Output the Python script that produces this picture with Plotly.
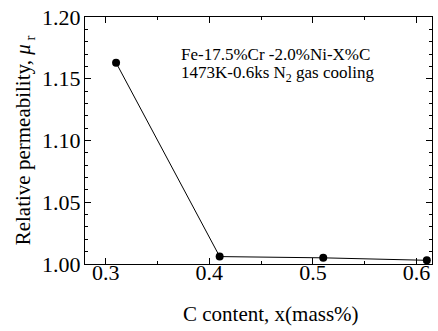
import plotly.graph_objects as go

c_content = [0.31, 0.41, 0.51, 0.61]
permeability = [1.163, 1.006, 1.005, 1.003]

x_ticks = [0.3, 0.4, 0.5, 0.6]
y_ticks = [1.00, 1.05, 1.10, 1.15, 1.20]

FONT = "Liberation Serif, Times New Roman, serif"

fig = go.Figure()
fig.add_trace(go.Scatter(
    x=c_content, y=permeability, mode="lines+markers",
    line=dict(color="black", width=1),
    marker=dict(color="black", size=8),
    showlegend=False,
))

axis_common = dict(
    showline=True, linecolor="black", linewidth=1, mirror="ticks",
    ticks="inside", ticklen=6, tickcolor="black", tickwidth=1,
    showgrid=False, zeroline=False,
    tickfont=dict(family=FONT, size=22, color="black"),
)

fig.update_xaxes(
    range=[0.28, 0.615], tickvals=x_ticks, ticktext=[f"{v:.1f}" for v in x_ticks],
    minor=dict(ticks="inside", ticklen=3, dtick=0.05, tick0=0.3, tickcolor="black"),
    ticklabelstandoff=-11,
    **axis_common,
)
fig.update_yaxes(
    range=[1.0, 1.2], tickvals=y_ticks, ticktext=[f"{v:.2f}" for v in y_ticks],
    minor=dict(ticks="inside", ticklen=3, dtick=0.01, tick0=1.0, tickcolor="black"),
    title=dict(text="Relative permeability, <i>μ</i><sub> r</sub>", font=dict(family=FONT, size=21, color="black"), standoff=5),
    ticklabelstandoff=-1,
    **axis_common,
)

# x-axis title (offset to the right as in the reference)
fig.add_annotation(x=0.537, y=-0.204, xref="paper", yref="paper", xanchor="center", yanchor="middle",
                   text="C content, x(mass%)", showarrow=False,
                   font=dict(family=FONT, size=21, color="black"))

fig.add_annotation(x=0.371, y=1.1696, xref="x", yref="y", xanchor="left", yanchor="middle",
                   text="Fe-17.5%Cr -2.0%Ni-X%C", showarrow=False,
                   font=dict(family=FONT, size=17, color="black"))
fig.add_annotation(x=0.371, y=1.1536, xref="x", yref="y", xanchor="left", yanchor="middle",
                   text="1473K-0.6ks N<sub>2</sub> gas cooling", showarrow=False,
                   font=dict(family=FONT, size=17, color="black"))

fig.update_layout(
    width=438, height=331,
    margin=dict(l=85, r=5, t=14, b=67),
    paper_bgcolor="white", plot_bgcolor="white",
)

fig.write_html("out.html")
